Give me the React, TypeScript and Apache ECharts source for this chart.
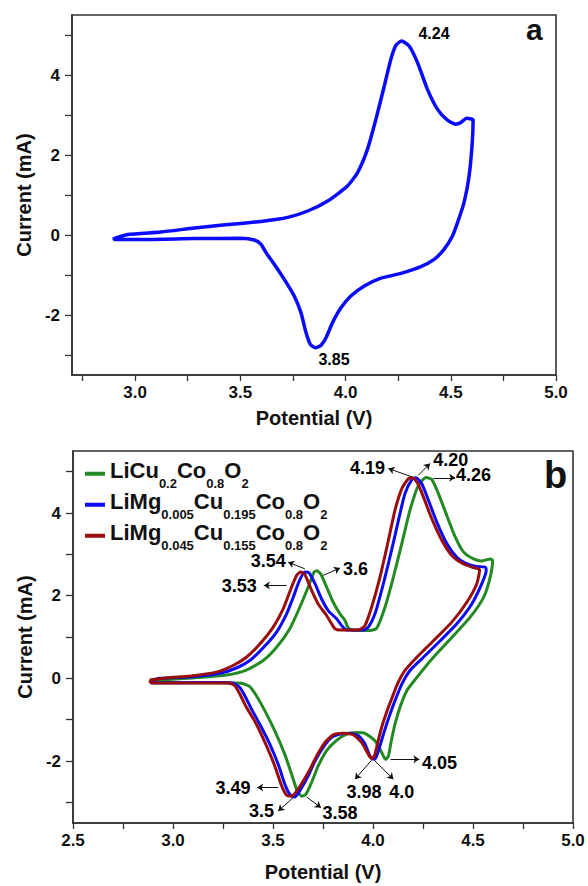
import React, { useEffect, useRef } from 'react';
import * as echarts from 'echarts';

const FONT = '"Liberation Sans", Arial, Helvetica, sans-serif';

// ---------- Panel (a) ----------
const aV = [2.899, 2.965, 3.123, 3.282, 3.44, 3.598, 3.725, 3.82, 3.915, 4.009, 4.057, 4.104, 4.144, 4.184, 4.215, 4.239, 4.266, 4.302, 4.342, 4.389, 4.437, 4.484, 4.524, 4.547, 4.576, 4.606, 4.602, 4.587, 4.563, 4.532, 4.508, 4.468, 4.421, 4.358, 4.263, 4.168, 4.089, 4.025, 3.978, 3.938, 3.907, 3.883, 3.856, 3.832, 3.812, 3.788, 3.756, 3.709, 3.661, 3.622, 3.598, 3.566, 3.503, 3.282, 3.044, 2.902, 2.899];
const aI = [-0.09, 0.01, 0.075, 0.175, 0.26, 0.34, 0.44, 0.6, 0.85, 1.225, 1.56, 2.14, 2.89, 3.725, 4.39, 4.74, 4.85, 4.725, 4.31, 3.64, 3.14, 2.87, 2.77, 2.81, 2.92, 2.875, 2.31, 1.475, 0.81, 0.31, -0.025, -0.36, -0.61, -0.79, -0.96, -1.08, -1.275, -1.525, -1.82, -2.19, -2.57, -2.76, -2.82, -2.73, -2.44, -1.94, -1.525, -1.11, -0.73, -0.44, -0.23, -0.125, -0.083, -0.09, -0.11, -0.11, -0.06];

const annAText = ['4.24', '3.85'];
const annAV = [4.42, 3.945];
const annAI = [5.03, -3.12];

// ---------- Panel (b) ----------
const names = ['LiCu0.2Co0.8O2', 'LiMg0.005Cu0.195Co0.8O2', 'LiMg0.045Cu0.155Co0.8O2'];
const richNames = [
  '{m|LiCu}{s|0.2}{m|Co}{s|0.8}{m|O}{s|2}',
  '{m|LiMg}{s|0.005}{m|Cu}{s|0.195}{m|Co}{s|0.8}{m|O}{s|2}',
  '{m|LiMg}{s|0.045}{m|Cu}{s|0.155}{m|Co}{s|0.8}{m|O}{s|2}',
];
const colorsB = ['#238a23', '#0a0af5', '#9a0d0d'];

const gV = [2.90, 3.0, 3.10, 3.267, 3.367, 3.451, 3.518, 3.584, 3.634, 3.676, 3.705, 3.718, 3.738, 3.768, 3.801, 3.835, 3.86, 3.876, 3.90, 3.985, 4.018, 4.06, 4.102, 4.144, 4.185, 4.227, 4.265, 4.294, 4.327, 4.369, 4.411, 4.452, 4.503, 4.544, 4.586, 4.598, 4.586, 4.553, 4.486, 4.402, 4.302, 4.219, 4.169, 4.135, 4.11, 4.09, 4.077, 4.063, 4.043, 4.01, 3.96, 3.918, 3.868, 3.818, 3.768, 3.726, 3.693, 3.664, 3.643, 3.621, 3.593, 3.559, 3.509, 3.459, 3.417, 3.384, 3.342, 3.267, 2.90, 2.897];
const gI = [-0.06, -0.02, 0.01, 0.08, 0.2, 0.43, 0.75, 1.2, 1.72, 2.21, 2.57, 2.6, 2.53, 2.21, 1.84, 1.56, 1.40, 1.22, 1.16, 1.16, 1.21, 1.72, 2.45, 3.26, 4.07, 4.67, 4.86, 4.81, 4.47, 3.94, 3.42, 3.06, 2.89, 2.84, 2.89, 2.85, 2.45, 1.96, 1.48, 1.03, 0.51, 0.02, -0.3, -0.70, -1.11, -1.55, -1.88, -1.96, -1.79, -1.51, -1.33, -1.31, -1.35, -1.50, -1.75, -2.12, -2.52, -2.81, -2.85, -2.72, -2.32, -1.84, -1.27, -0.78, -0.42, -0.20, -0.12, -0.105, -0.105, -0.05];

const bV = [2.891, 2.933, 3.10, 3.234, 3.317, 3.384, 3.451, 3.518, 3.568, 3.601, 3.631, 3.659, 3.681, 3.71, 3.743, 3.776, 3.818, 3.843, 3.868, 3.90, 3.95, 3.977, 4.01, 4.052, 4.093, 4.127, 4.16, 4.194, 4.215, 4.244, 4.277, 4.319, 4.369, 4.419, 4.461, 4.511, 4.561, 4.566, 4.544, 4.494, 4.419, 4.336, 4.252, 4.185, 4.144, 4.11, 4.085, 4.06, 4.035, 4.018, 4.005, 3.985, 3.96, 3.927, 3.885, 3.835, 3.793, 3.751, 3.71, 3.676, 3.634, 3.609, 3.584, 3.559, 3.526, 3.484, 3.434, 3.392, 3.359, 3.334, 3.30, 3.234, 3.017, 2.891, 2.888];
const bI = [-0.057, 0, 0.04, 0.12, 0.25, 0.43, 0.74, 1.12, 1.56, 1.96, 2.35, 2.57, 2.55, 2.29, 1.92, 1.64, 1.44, 1.28, 1.17, 1.17, 1.17, 1.24, 1.56, 2.29, 3.10, 3.82, 4.47, 4.81, 4.85, 4.71, 4.31, 3.78, 3.26, 2.93, 2.79, 2.71, 2.69, 2.61, 2.29, 1.80, 1.32, 0.91, 0.51, 0.19, -0.14, -0.54, -0.87, -1.23, -1.63, -1.88, -1.96, -1.88, -1.59, -1.39, -1.33, -1.35, -1.43, -1.67, -2.0, -2.36, -2.72, -2.87, -2.81, -2.56, -2.08, -1.59, -1.11, -0.74, -0.42, -0.22, -0.12, -0.10, -0.105, -0.105, -0.04];

const rV = [2.883, 3.0, 3.10, 3.217, 3.30, 3.367, 3.434, 3.501, 3.551, 3.593, 3.621, 3.638, 3.659, 3.693, 3.726, 3.768, 3.793, 3.81, 3.835, 3.927, 3.96, 3.993, 4.035, 4.077, 4.11, 4.144, 4.177, 4.199, 4.222, 4.252, 4.294, 4.344, 4.394, 4.444, 4.494, 4.533, 4.519, 4.469, 4.394, 4.302, 4.219, 4.16, 4.122, 4.093, 4.068, 4.043, 4.022, 4.007, 3.993, 3.977, 3.943, 3.902, 3.851, 3.801, 3.76, 3.718, 3.676, 3.626, 3.593, 3.568, 3.543, 3.509, 3.467, 3.417, 3.367, 3.334, 3.309, 3.275, 3.10, 2.891, 2.883];
const rI = [-0.04, 0.024, 0.065, 0.15, 0.31, 0.51, 0.83, 1.24, 1.68, 2.21, 2.51, 2.57, 2.51, 2.13, 1.80, 1.52, 1.32, 1.20, 1.17, 1.17, 1.28, 1.72, 2.45, 3.34, 4.07, 4.59, 4.83, 4.85, 4.73, 4.39, 3.86, 3.34, 2.97, 2.79, 2.69, 2.63, 2.29, 1.84, 1.36, 0.91, 0.51, 0.19, -0.14, -0.50, -0.82, -1.19, -1.59, -1.88, -1.94, -1.84, -1.55, -1.37, -1.33, -1.37, -1.55, -1.88, -2.28, -2.68, -2.85, -2.83, -2.60, -2.12, -1.63, -1.11, -0.70, -0.38, -0.18, -0.11, -0.11, -0.11, -0.057];

const annBText = ['4.19', '4.20', '4.26', '3.54', '3.6', '3.53', '4.05', '3.98', '4.0', '3.49', '3.5', '3.58'];
const annBV = [3.972, 4.389, 4.503, 3.476, 3.913, 3.331, 4.332, 3.955, 4.144, 3.30, 3.442, 3.835];
const annBI = [5.09, 5.28, 4.915, 2.84, 2.65, 2.223, -2.037, -2.74, -2.74, -2.66, -3.21, -3.25];

// arrows: [fromV, fromI, toV, toI]
const arrowsB = [
  [4.194, 4.875, 4.077, 5.077],
  [4.227, 4.915, 4.285, 5.198],
  [4.302, 4.85, 4.411, 4.85],
  [3.659, 2.65, 3.576, 2.81],
  [3.751, 2.49, 3.835, 2.668],
  [3.568, 2.247, 3.454, 2.247],
  [4.088, -1.956, 4.232, -1.956],
  [3.993, -1.98, 3.91, -2.44],
  [4.01, -2.0, 4.102, -2.44],
  [3.526, -2.643, 3.421, -2.643],
  [3.601, -2.886, 3.526, -3.21],
  [3.668, -2.87, 3.74, -3.13],
];

// ---------- axis ticks / labels ----------
const xTicksA = [2.75, 3.0, 3.25, 3.5, 3.75, 4.0, 4.25, 4.5, 4.75, 5.0];
const xLabelsA = [3.0, 3.5, 4.0, 4.5, 5.0];
const xTicksB = [2.5, 2.75, 3.0, 3.25, 3.5, 3.75, 4.0, 4.25, 4.5, 4.75, 5.0];
const xLabelsB = [2.5, 3.0, 3.5, 4.0, 4.5, 5.0];
const yTicks = [-3, -2, -1, 0, 1, 2, 3, 4, 5];
const yLabels = [-2, 0, 2, 4];

const pairs = (v: number[], i: number[]) => v.map((x, k) => [x, i[k]]);

const AX = '#333';
const TXT = '#111';

function xAxis(gridIndex: number, min: number, ticks: number[], labels: number[], gap: number) {
  return {
    type: 'value',
    gridIndex,
    min,
    max: 5.0,
    axisLine: { show: true, onZero: false, lineStyle: { color: AX, width: 1.6 } },
    axisTick: { show: true, inside: false, length: 6, customValues: ticks, lineStyle: { color: AX, width: 1.3 } },
    axisLabel: {
      customValues: labels,
      formatter: (v: number) => v.toFixed(1),
      fontSize: 17, fontWeight: 'bold', color: TXT, fontFamily: FONT, margin: 9,
    },
    splitLine: { show: false },
    name: 'Potential (V)',
    nameLocation: 'middle',
    nameGap: gap,
    nameTextStyle: { fontSize: 20, fontWeight: 'bold', color: TXT, fontFamily: FONT },
  };
}

function yAxis(gridIndex: number) {
  return {
    type: 'value',
    gridIndex,
    min: -3.5,
    max: 5.5,
    axisLine: { show: true, onZero: false, lineStyle: { color: AX, width: 1.6 } },
    axisTick: { show: true, inside: false, length: 7, customValues: yTicks, lineStyle: { color: AX, width: 1.3 } },
    axisLabel: {
      customValues: yLabels,
      formatter: (v: number) => String(v),
      fontSize: 17, fontWeight: 'bold', color: TXT, fontFamily: FONT, margin: 12,
    },
    splitLine: { show: false },
    name: 'Current (mA)',
    nameLocation: 'middle',
    nameGap: 34,
    nameTextStyle: { fontSize: 20, fontWeight: 'bold', color: TXT, fontFamily: FONT },
  };
}

function annSeries(idx: number, texts: string[], vs: number[], is: number[], size: number) {
  return {
    type: 'scatter',
    xAxisIndex: idx,
    yAxisIndex: idx,
    silent: true,
    symbolSize: 0,
    itemStyle: { opacity: 1, color: TXT },
    data: vs.map((v, k) => [v, is[k]]),
    label: {
      show: true,
      position: 'inside',
      formatter: (p: any) => texts[p.dataIndex],
      fontSize: size,
      fontWeight: 'bold',
      color: '#000',
      opacity: 1,
      textBorderWidth: 0,
      fontFamily: FONT,
    },
    z: 5,
  };
}

const option: any = {
  animation: false,
  backgroundColor: '#fff',
  grid: [
    { left: 72, top: 15, width: 484, height: 360, show: true, borderColor: AX, borderWidth: 1.6, backgroundColor: 'transparent' },
    { left: 73, top: 451, width: 500, height: 372, show: true, borderColor: AX, borderWidth: 1.6, backgroundColor: 'transparent' },
  ],
  xAxis: [xAxis(0, 2.7, xTicksA, xLabelsA, 33), xAxis(1, 2.5, xTicksB, xLabelsB, 39)],
  yAxis: [yAxis(0), yAxis(1)],
  legend: {
    data: names,
    orient: 'vertical',
    left: 85,
    top: 459,
    padding: 0,
    icon: 'rect',
    itemWidth: 20,
    itemHeight: 4,
    itemGap: 0,
    selectedMode: false,
    formatter: (name: string) => richNames[names.indexOf(name)],
    textStyle: {
      color: TXT,
      rich: {
        m: { fontSize: 22, fontWeight: 'bold', fontFamily: FONT, color: TXT, lineHeight: 29.5, verticalAlign: 'top' },
        s: { fontSize: 13, fontWeight: 'bold', fontFamily: FONT, color: TXT, lineHeight: 12, height: 10, verticalAlign: 'bottom' },
      },
    },
  },
  series: [
    {
      name: 'a', type: 'line', xAxisIndex: 0, yAxisIndex: 0, data: pairs(aV, aI),
      showSymbol: false, smooth: 0.2, lineStyle: { color: '#0a0aff', width: 3.5 }, itemStyle: { color: '#0a0aff' },
    },
    {
      name: names[0], type: 'line', xAxisIndex: 1, yAxisIndex: 1, data: pairs(gV, gI),
      showSymbol: false, smooth: 0.2, lineStyle: { color: colorsB[0], width: 3 }, itemStyle: { color: colorsB[0] },
    },
    {
      name: names[1], type: 'line', xAxisIndex: 1, yAxisIndex: 1, data: pairs(bV, bI),
      showSymbol: false, smooth: 0.2, lineStyle: { color: colorsB[1], width: 3 }, itemStyle: { color: colorsB[1] },
    },
    {
      name: names[2], type: 'line', xAxisIndex: 1, yAxisIndex: 1, data: pairs(rV, rI),
      showSymbol: false, smooth: 0.2, lineStyle: { color: colorsB[2], width: 3 }, itemStyle: { color: colorsB[2] },
    },
    annSeries(0, annAText, annAV, annAI, 16),
    annSeries(1, annBText, annBV, annBI, 18),
    {
      type: 'lines',
      coordinateSystem: 'cartesian2d',
      xAxisIndex: 1,
      yAxisIndex: 1,
      silent: true,
      symbol: ['none', 'arrow'],
      symbolSize: 6,
      lineStyle: { color: '#111', width: 1, opacity: 1 },
      data: arrowsB.map((a) => ({ coords: [[a[0], a[1]], [a[2], a[3]]] })),
      z: 5,
    },
  ],
  graphic: [
    { type: 'text', left: 526, top: 14, style: { text: 'a', fontSize: 30, fontWeight: 'bold', fill: TXT, fontFamily: FONT } },
    { type: 'text', left: 544, top: 456, style: { text: 'b', fontSize: 38, fontWeight: 'bold', fill: TXT, fontFamily: FONT } },
  ],
};

export default function App() {
  const ref = useRef<HTMLDivElement>(null);
  useEffect(() => {
    if (!ref.current) return;
    const chart = echarts.init(ref.current, null, { renderer: 'svg' });
    chart.setOption(option);
    return () => chart.dispose();
  }, []);
  return (
    <div
      ref={ref}
      style={{ position: 'absolute', left: 0, top: 0, width: 588, height: 886, background: '#fff' }}
    />
  );
}
